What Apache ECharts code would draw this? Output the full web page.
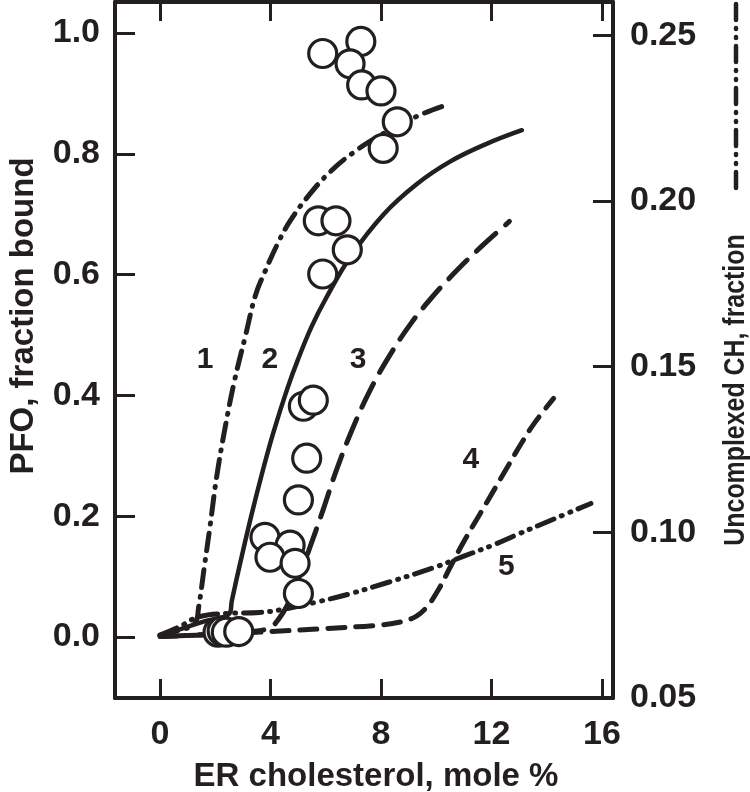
<!DOCTYPE html>
<html><head><meta charset="utf-8">
<script src="https://cdn.jsdelivr.net/npm/echarts@6/dist/echarts.min.js"></script>
<style>html,body{margin:0;padding:0;background:#fff}#c{width:750px;height:792px}</style>
</head><body><div id="c"></div>
<script>
// ---- data ----
const xTicks = [0, 4, 8, 12, 16];
const yLeftTicks = [0, 0.2, 0.4, 0.6, 0.8, 1.0];
const yRightTicks = [0.05, 0.10, 0.15, 0.20, 0.25];

const circlesX = [7.27,5.89,6.88,7.30,8.00,8.59,8.08,5.73,6.37,6.78,5.89,5.19,5.55,5.31,5.01,3.80,4.71,3.98,4.89,5.01,2.10,2.25,2.40,2.85];
const circlesY = [0.986,0.966,0.949,0.914,0.904,0.853,0.809,0.689,0.689,0.641,0.601,0.382,0.392,0.296,0.227,0.165,0.152,0.132,0.122,0.072,0.008,0.010,0.008,0.009];

const curve1X = [0,0.6,1.25,1.4,1.6,1.81,2.05,2.35,2.7,3.1,3.45,3.8,4.3,4.7,5.4,6.2,7.0,7.8,8.6,9.5,10.45];
const curve1Y = [0.003,0.01,0.022,0.05,0.115,0.183,0.265,0.345,0.425,0.5,0.565,0.605,0.655,0.688,0.732,0.772,0.802,0.826,0.846,0.866,0.882];

const curve2X = [0,0.8,1.6,2.5,2.6,2.9,3.3,3.7,4.1,4.6,5.0,5.5,6.0,6.9,8.1,9.3,10.5,11.8,13.1];
const curve2Y = [0.002,0.014,0.026,0.038,0.06,0.122,0.2,0.272,0.338,0.41,0.46,0.515,0.56,0.63,0.70,0.75,0.787,0.816,0.839];

const curve3X = [0,2,3.5,4.0,4.3,4.6,5.0,5.4,5.9,6.4,7.0,7.6,8.3,9.1,9.8,10.6,11.6,12.65];
const curve3Y = [0.001,0.005,0.010,0.016,0.03,0.052,0.095,0.145,0.21,0.278,0.348,0.408,0.465,0.52,0.56,0.60,0.645,0.688];

const curve4X = [0,2,4,6,8,8.8,9.3,9.7,10.1,10.5,11.0,11.6,12.1,12.6,13.1,13.6,14.25];
const curve4Y = [0.001,0.004,0.009,0.014,0.02,0.026,0.035,0.052,0.08,0.115,0.158,0.205,0.244,0.283,0.322,0.357,0.395];

const curve5X = [0,0.7,1.4,2.4,3.6,4.5,5.7,6.9,8.3,9.9,11.0,12.1,12.9,14.2,15.6];
const curve5Y = [0.069,0.0715,0.0745,0.0755,0.0758,0.0768,0.079,0.0815,0.085,0.0893,0.0928,0.0963,0.0992,0.1038,0.1087];

const curveLabels = ['1','2','3','4','5'];
const curveLabelX = [1.63,3.98,7.17,11.25,12.54];
const curveLabelY = [0.459,0.459,0.459,0.293,0.116];

// ---- build ----
const zip = (a, b) => a.map((v, i) => [v, b[i]]);
const INK = '#231f20';
const FONT = '"Liberation Sans", Arial, Helvetica, sans-serif';

const chart = echarts.init(document.getElementById('c'), null, {renderer: 'canvas'});

function lineSeries(name, xs, ys, type, yIdx, w) {
  return {
    name, type: 'line', xAxisIndex: 0, yAxisIndex: yIdx,
    data: zip(xs, ys), showSymbol: false, symbol: 'none',
    smooth: 0.4, z: 2,
    lineStyle: {color: INK, width: w, type: type, cap: 'round', join: 'round', opacity: 1},
    silent: true, animation: false
  };
}

const option = {
  animation: false,
  backgroundColor: '#fff',
  grid: {left: 115, right: 137, top: 2, bottom: 94, containLabel: false},
  xAxis: [
    {type: 'value', position: 'bottom', min: -1.63, max: 16.4,
     axisLine: {show: true, onZero: false, lineStyle: {color: INK, width: 4}},
     axisTick: {show: true, inside: true, length: 19, customValues: xTicks, lineStyle: {color: INK, width: 3}},
     axisLabel: {show: true, customValues: xTicks, margin: 20, color: INK, fontSize: 34, fontWeight: 'bold', fontFamily: FONT},
     splitLine: {show: false}},
    {type: 'value', position: 'top', min: -1.63, max: 16.4,
     axisLine: {show: true, onZero: false, lineStyle: {color: INK, width: 4}},
     axisTick: {show: true, inside: true, length: 19, customValues: xTicks, lineStyle: {color: INK, width: 3}},
     axisLabel: {show: false}, splitLine: {show: false}}
  ],
  yAxis: [
    {type: 'value', position: 'left', min: -0.101, max: 1.0513,
     axisLine: {show: true, onZero: false, lineStyle: {color: INK, width: 4}},
     axisTick: {show: true, inside: true, length: 20, customValues: yLeftTicks, lineStyle: {color: INK, width: 3}},
     axisLabel: {show: true, customValues: yLeftTicks, margin: 15, color: INK, fontSize: 34, fontWeight: 'bold', fontFamily: FONT,
                 formatter: v => v.toFixed(1)},
     splitLine: {show: false}},
    {type: 'value', position: 'right', min: 0.05, max: 0.26,
     axisLine: {show: true, onZero: false, lineStyle: {color: INK, width: 4}},
     axisTick: {show: true, inside: true, length: 20, customValues: yRightTicks, lineStyle: {color: INK, width: 3}},
     axisLabel: {show: true, customValues: yRightTicks, margin: 17, color: INK, fontSize: 34, fontWeight: 'bold', fontFamily: FONT,
                 formatter: v => v.toFixed(2)},
     splitLine: {show: false}}
  ],
  series: [
    lineSeries('1', curve1X, curve1Y, [18, 9, 1, 9], 0, 5),
    lineSeries('2', curve2X, curve2Y, 'solid', 0, 4.5),
    lineSeries('3', curve3X, curve3Y, [26, 13], 0, 5),
    lineSeries('4', curve4X, curve4Y, [17, 11], 0, 5),
    lineSeries('5', curve5X, curve5Y, [18, 8, 1, 8, 1, 8], 1, 5),
    {name: 'data', type: 'scatter', xAxisIndex: 0, yAxisIndex: 0, z: 5,
     data: zip(circlesX, circlesY), symbol: 'circle', symbolSize: 28,
     itemStyle: {color: '#fff', borderColor: INK, borderWidth: 3.2, opacity: 1}, silent: true},
    {name: 'labels', type: 'scatter', xAxisIndex: 0, yAxisIndex: 0, z: 6,
     data: curveLabelX.map((x, i) => ({value: [x, curveLabelY[i]], name: curveLabels[i]})),
     symbolSize: 0, silent: true, itemStyle: {opacity: 1, color: INK},
     label: {show: true, position: 'inside', formatter: p => p.name, color: INK, fontSize: 30, fontWeight: 'bold', fontFamily: FONT}}
  ],
  graphic: [
    {type: 'text', x: 24, y: 316, rotation: Math.PI / 2,
     style: {text: 'PFO, fraction bound', fill: INK, font: 'bold 33px ' + FONT, align: 'center', verticalAlign: 'middle'}},
    {type: 'text', x: 376, y: 777,
     style: {text: 'ER cholesterol, mole %', fill: INK, font: 'bold 33px ' + FONT, align: 'center', verticalAlign: 'middle'}},
    {type: 'text', x: 736, y: 390, rotation: Math.PI / 2, scaleX: 0.83, scaleY: 1,
     style: {text: 'Uncomplexed CH, fraction', fill: INK, font: 'bold 30px ' + FONT, align: 'center', verticalAlign: 'middle'}},
    {type: 'line', shape: {x1: 736, y1: 188, x2: 736, y2: 4},
     style: {stroke: INK, lineWidth: 4.5, lineDash: [16, 8, 1, 8, 1, 8], lineCap: 'round'}}
  ]
};
chart.setOption(option);
</script></body></html>
